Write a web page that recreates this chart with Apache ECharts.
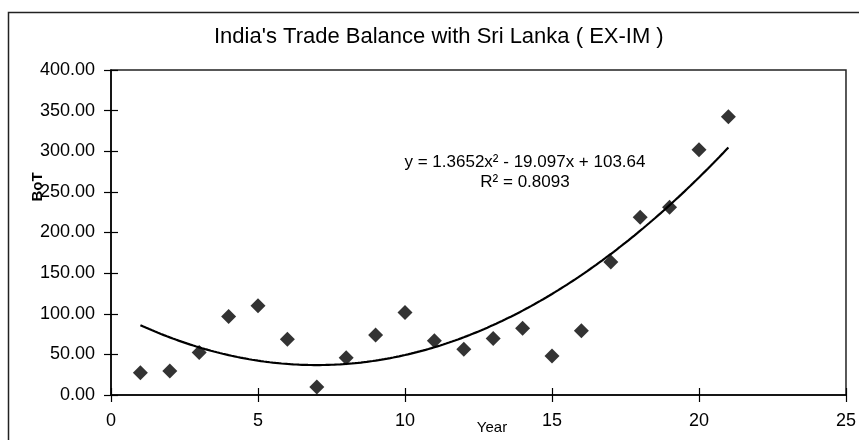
<!DOCTYPE html>
<html>
<head>
<meta charset="utf-8">
<script src="https://cdn.jsdelivr.net/npm/echarts@6/dist/echarts.min.js"></script>
<style>
  html, body { margin: 0; padding: 0; background: #ffffff; }
  #chart { width: 859px; height: 440px; }
</style>
</head>
<body>
<div id="chart"></div>
<script>
// Year index and India's trade balance with Sri Lanka (exports minus imports)
const years = [1, 2, 3, 4, 5, 6, 7, 8, 9, 10, 11, 12, 13, 14, 15, 16, 17, 18, 19, 20, 21];
const balance = [27.5, 29.6, 52.3, 96.7, 109.9, 68.7, 9.9, 46.0, 74.0, 101.6, 66.7,
                 56.4, 69.5, 82.3, 48.1, 79.0, 163.8, 218.9, 231.0, 302.0, 342.4];

// Polynomial trendline coefficients as printed on the chart: a*x^2 + b*x + c
const trendCoef = [1.3652, -19.097, 103.64];
const trendR2 = 0.8093;

const xTicks = [0, 5, 10, 15, 20, 25];
const yTicks = [0, 50, 100, 150, 200, 250, 300, 350, 400];

// Trendline sampled along the fitted range of years
const trendPoints = [];
for (let i = 0; i <= 200; i++) {
  const x = years[0] + (years[years.length - 1] - years[0]) * i / 200;
  trendPoints.push([x, trendCoef[0] * x * x + trendCoef[1] * x + trendCoef[2]]);
}

const scatterData = years.map((y, i) => [y, balance[i]]);

const labelFont = 'Liberation Sans, Arial, sans-serif';

function fmtCoef(v) { return Math.abs(v).toString(); }
const eqLine1 = 'y = ' + trendCoef[0] + 'x\u00B2 - ' + fmtCoef(trendCoef[1]) + 'x + ' + trendCoef[2];
const eqLine2 = 'R\u00B2 = ' + trendR2;

const chart = echarts.init(document.getElementById('chart'), null, { renderer: 'canvas' });

const xCommon = {
  type: 'value',
  min: xTicks[0],
  max: xTicks[xTicks.length - 1],
  interval: 5,
  splitLine: { show: false },
  position: 'bottom'
};
const yCommon = {
  type: 'value',
  min: yTicks[0],
  max: yTicks[yTicks.length - 1],
  interval: 50,
  splitLine: { show: false },
  position: 'left'
};

chart.setOption({
  backgroundColor: '#ffffff',
  animation: false,
  title: {
    text: "India's Trade Balance with Sri Lanka ( EX-IM )",
    left: 209,
    top: 21,
    textStyle: { fontFamily: labelFont, fontSize: 22, fontWeight: 'normal', color: '#000' }
  },
  grid: {
    left: 111, top: 70, right: 11, bottom: 45,
    show: true, borderColor: '#222', borderWidth: 1.5, backgroundColor: 'transparent'
  },
  xAxis: [
    Object.assign({}, xCommon, {
      axisLine: { show: true, lineStyle: { color: '#000', width: 1.5 } },
      axisTick: { show: true, inside: false, length: 7, lineStyle: { color: '#000', width: 1.2 } },
      axisLabel: { show: true, margin: 17, fontFamily: labelFont, fontSize: 18, color: '#000' }
    }),
    Object.assign({}, xCommon, {
      axisLine: { show: false },
      axisTick: { show: true, inside: true, length: 7, lineStyle: { color: '#000', width: 1.2 } },
      axisLabel: { show: false }
    })
  ],
  yAxis: [
    Object.assign({}, yCommon, {
      axisLine: { show: true, lineStyle: { color: '#000', width: 1.5 } },
      axisTick: { show: true, inside: false, length: 7, lineStyle: { color: '#000', width: 1.2 } },
      axisLabel: {
        show: true, margin: 16, fontFamily: labelFont, fontSize: 18, color: '#000',
        formatter: v => v.toFixed(2)
      }
    }),
    Object.assign({}, yCommon, {
      axisLine: { show: false },
      axisTick: { show: true, inside: true, length: 7, lineStyle: { color: '#000', width: 1.2 } },
      axisLabel: { show: false }
    })
  ],
  series: [
    {
      name: 'Trade balance',
      type: 'scatter',
      xAxisIndex: 0, yAxisIndex: 0,
      data: scatterData,
      symbol: 'diamond',
      symbolSize: 15,
      itemStyle: { color: '#000' },
      z: 3
    },
    {
      name: 'Poly. trend',
      type: 'line',
      xAxisIndex: 0, yAxisIndex: 0,
      data: trendPoints,
      showSymbol: false,
      lineStyle: { color: '#000', width: 2.2 },
      z: 2
    }
  ],
  graphic: [
    {
      type: 'rect',
      shape: { x: 8.5, y: 12.5, width: 900, height: 500 },
      style: { fill: 'none', stroke: '#222', lineWidth: 1.5 },
      silent: true
    },
    {
      type: 'text',
      x: 525, y: 152,
      style: {
        text: eqLine1 + '\n' + eqLine2,
        fontFamily: labelFont, fontSize: 17, fill: '#000',
        align: 'center', lineHeight: 20
      }
    },
    {
      type: 'text',
      x: 38, y: 187,
      rotation: Math.PI / 2,
      style: {
        text: 'BoT',
        fontFamily: labelFont, fontSize: 15, fontWeight: 'bold', fill: '#000',
        align: 'center', verticalAlign: 'middle'
      }
    },
    {
      type: 'text',
      x: 492, y: 428,
      style: {
        text: 'Year',
        fontFamily: labelFont, fontSize: 15, fill: '#000',
        align: 'center', verticalAlign: 'middle'
      }
    }
  ]
});
</script>
</body>
</html>
